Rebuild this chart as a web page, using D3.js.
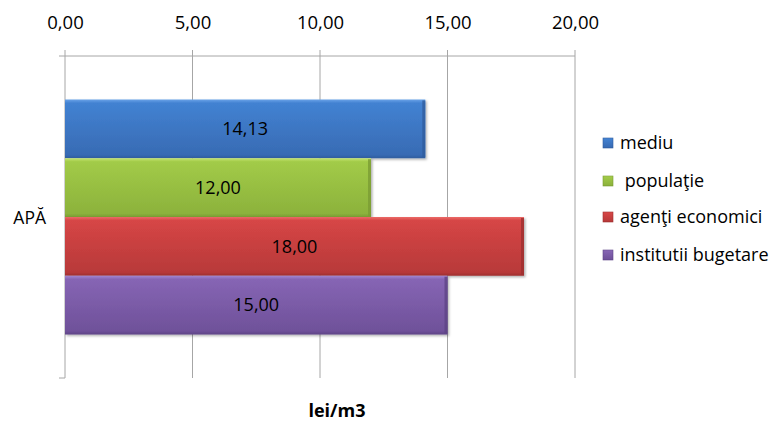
<!DOCTYPE html>
<html>
<head>
<meta charset="utf-8">
<script src="https://cdn.jsdelivr.net/npm/d3@7"></script>
<style>
  body { margin: 0; background: #fff; }
  text { font-family: "Open Sans", Lato, sans-serif; fill: #000; }
</style>
</head>
<body>
<script>
  // Chart data
  const categories = ["APĂ"];
  const seriesNames = ["mediu", " populaţie", "agenţi economici", "institutii bugetare"];
  const seriesValues = [14.13, 12.00, 18.00, 15.00];
  const tickValues = [0, 5, 10, 15, 20];

  const colors = [
    { top: "#6aa3e8", mid: "#4282d2", bot: "#386bb4", edge: "#2f5d9e" },
    { top: "#c4e474", mid: "#a2cb48", bot: "#8cb23c", edge: "#7a9c33" },
    { top: "#ec6a68", mid: "#d64646", bot: "#b83939", edge: "#9e2f2f" },
    { top: "#a286d0", mid: "#8665b4", bot: "#6f519a", edge: "#5e4486" }
  ];

  const width = 778, height = 423;
  const margin = { left: 65, right: 203, top: 56, bottom: 45 };

  const svg = d3.select("body").append("svg")
    .attr("width", width)
    .attr("height", height);

  const defs = svg.append("defs");
  colors.forEach((c, i) => {
    const g = defs.append("linearGradient")
      .attr("id", "grad" + i)
      .attr("x1", 0).attr("y1", 0).attr("x2", 0).attr("y2", 1);
    g.append("stop").attr("offset", "0%").attr("stop-color", c.top);
    g.append("stop").attr("offset", "6%").attr("stop-color", c.mid);
    g.append("stop").attr("offset", "94%").attr("stop-color", c.bot);
    g.append("stop").attr("offset", "100%").attr("stop-color", c.edge);
  });
  const shadow = defs.append("filter").attr("id", "shadow")
    .attr("x", "-5%").attr("y", "-10%").attr("width", "110%").attr("height", "130%");
  shadow.append("feDropShadow")
    .attr("dx", 1.5).attr("dy", 1.5).attr("stdDeviation", 1.3)
    .attr("flood-color", "#000").attr("flood-opacity", 0.3);

  const x = d3.scaleLinear()
    .domain([0, 20])
    .range([margin.left, width - margin.right]);

  const y = d3.scaleBand()
    .domain(categories)
    .range([margin.top, height - margin.bottom]);

  const inner = d3.scaleBand()
    .domain(d3.range(seriesValues.length))
    .range([0, y.bandwidth()])
    .paddingOuter(0.74);

  const fmt = v => d3.format(".2f")(v).replace(".", ",");

  // Gridlines
  svg.append("g")
    .selectAll("line")
    .data(tickValues)
    .join("line")
    .attr("x1", d => x(d)).attr("x2", d => x(d))
    .attr("y1", margin.top - 6).attr("y2", height - margin.bottom)
    .attr("stroke", "#a6a6a6")
    .attr("stroke-width", 1);

  // Top axis
  const axis = svg.append("g")
    .attr("transform", `translate(0,${margin.top})`)
    .call(d3.axisTop(x).tickValues(tickValues).tickFormat(fmt).tickSize(0).tickPadding(27));
  axis.select(".domain").remove();
  axis.append("line")
    .attr("x1", margin.left - 6).attr("x2", x(20))
    .attr("stroke", "#a6a6a6");
  axis.selectAll("text")
    .style("font-family", "'Open Sans', Lato, sans-serif")
    .attr("font-size", 18.5)
    .attr("fill", "#000");

  // Left axis tick at bottom
  svg.append("line")
    .attr("x1", margin.left - 6).attr("x2", margin.left)
    .attr("y1", height - margin.bottom).attr("y2", height - margin.bottom)
    .attr("stroke", "#a6a6a6");

  // Category label
  svg.selectAll(".cat")
    .data(categories)
    .join("text")
    .attr("class", "cat")
    .attr("x", margin.left - 19)
    .attr("y", d => y(d) + y.bandwidth() / 2 + 1)
    .attr("text-anchor", "end")
    .attr("dy", "0.35em")
    .attr("font-size", 17.5)
    .text(d => d);

  // Bars
  const bars = svg.append("g");
  categories.forEach(cat => {
    bars.selectAll(".bar")
      .data(seriesValues)
      .join("rect")
      .attr("class", "bar")
      .attr("x", x(0))
      .attr("y", (d, i) => y(cat) + inner(i))
      .attr("width", d => x(d) - x(0))
      .attr("height", inner.bandwidth())
      .attr("fill", (d, i) => `url(#grad${i})`)
      .attr("filter", "url(#shadow)");

    // darker right bevel
    bars.selectAll(".edge")
      .data(seriesValues)
      .join("rect")
      .attr("class", "edge")
      .attr("x", d => x(d) - 3)
      .attr("y", (d, i) => y(cat) + inner(i) + 1)
      .attr("width", 3)
      .attr("height", inner.bandwidth() - 2)
      .attr("fill", (d, i) => colors[i].edge)
      .attr("opacity", 0.8);

    bars.selectAll(".lbl")
      .data(seriesValues)
      .join("text")
      .attr("class", "lbl")
      .attr("x", d => (x(0) + x(d)) / 2)
      .attr("y", (d, i) => y(cat) + inner(i) + inner.bandwidth() / 2)
      .attr("text-anchor", "middle")
      .attr("dy", "0.35em")
      .attr("font-size", 18)
      .text(d => fmt(d));
  });

  // Legend
  const legend = svg.append("g").attr("transform", "translate(603,0)");
  const rows = [143, 181, 217, 255];
  seriesNames.forEach((name, i) => {
    const g = legend.append("g").attr("transform", `translate(0,${rows[i]})`);
    g.append("rect")
      .attr("x", 0).attr("y", -5)
      .attr("width", 10).attr("height", 10)
      .attr("fill", `url(#grad${i})`)
      .attr("stroke", colors[i].edge)
      .attr("stroke-width", 0.6);
    g.append("text")
      .attr("x", 17)
      .attr("dy", "0.35em")
      .attr("font-size", 18)
      .style("white-space", "pre")
      .text(name);
  });

  // Axis title
  svg.append("text")
    .attr("x", 337)
    .attr("y", 417)
    .attr("text-anchor", "middle")
    .attr("font-size", 18)
    .attr("font-weight", "bold")
    .text("lei/m3");
</script>
</body>
</html>
